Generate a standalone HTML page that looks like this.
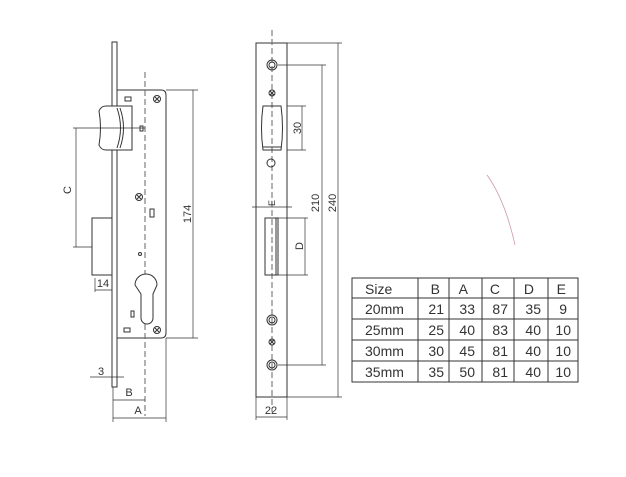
<!DOCTYPE html>
<html><head><meta charset="utf-8"><style>
html,body{margin:0;padding:0;background:#fff;}
svg{display:block;}
text{font-family:"Liberation Sans",sans-serif;fill:#333;}
</style></head><body>
<svg width="626" height="477" viewBox="0 0 626 477" xmlns="http://www.w3.org/2000/svg">
<g stroke="#333" stroke-width="1" fill="none">
<!-- LEFT VIEW -->
<rect x="112" y="42" width="5" height="345" fill="#fff"/>
<path d="M117 90 H161 Q166 90 166 95 V333 Q166 338 161 338 H117"/>
<line x1="145" y1="72" x2="145" y2="416" stroke-dasharray="6,3" stroke="#666"/>
<path d="M99 111 Q101 106 106 106 L132 106 L132 150 L106 150 Q101 150 99 145 Q102 128 99 111Z" fill="#fff"/>
<path d="M117 108 Q124 128 117 148" />
<path d="M120 108 Q127 128 120 148" />
<rect x="92" y="218" width="20" height="57"/>
<line x1="73" y1="128" x2="145" y2="128" stroke-width="0.7"/>
<line x1="73" y1="247" x2="92" y2="247" stroke-width="0.7"/>
<line x1="76" y1="128" x2="76" y2="247" stroke-width="0.7"/>
<line x1="166" y1="90" x2="198" y2="90" stroke-width="0.7"/>
<line x1="166" y1="338" x2="198" y2="338" stroke-width="0.7"/>
<line x1="193" y1="90" x2="193" y2="338" stroke-width="0.7"/>
<rect x="125" y="97" width="6" height="4"/>
<rect x="140" y="126" width="3" height="5"/>
<rect x="150" y="209" width="4" height="8"/>
<circle cx="140" cy="254" r="1.5"/>
<rect x="131" y="311" width="3" height="6"/>
<rect x="124" y="328" width="6" height="4"/>
<path d="M135 285 A11 11 0 0 1 157 285 L153 294 L153 318 A4 4 0 0 1 141 318 L141 294 Z" fill="#fff"/>
<circle cx="157" cy="99" r="3.5"/><path d="M155 97 L159 101 M159 97 L155 101"/>
<circle cx="139" cy="197" r="3.5"/><path d="M137 195 L141 199 M141 195 L137 199"/>
<circle cx="157" cy="330" r="3.5"/><path d="M155 328 L159 332 M159 328 L155 332"/>
<line x1="95" y1="278" x2="95" y2="292" stroke-width="0.7"/>
<line x1="95" y1="290" x2="112" y2="290" stroke-width="0.7"/>
<line x1="90" y1="377" x2="124" y2="377" stroke-width="0.7"/>
<line x1="113" y1="387" x2="113" y2="422" stroke-width="0.7"/>
<line x1="113" y1="400" x2="145" y2="400" stroke-width="0.7"/>
<line x1="166" y1="338" x2="166" y2="422" stroke-width="0.7"/>
<line x1="113" y1="418" x2="166" y2="418" stroke-width="0.7"/>

<!-- MIDDLE VIEW -->
<rect x="256" y="43" width="31" height="354" fill="#fff"/>
<line x1="272" y1="30" x2="272" y2="412" stroke-dasharray="6,3" stroke="#666"/>
<circle cx="272" cy="65" r="5"/><circle cx="272" cy="65" r="3"/>
<circle cx="272" cy="320" r="5"/><circle cx="272" cy="320" r="3"/>
<circle cx="272" cy="365" r="5"/><circle cx="272" cy="365" r="3"/>
<circle cx="272" cy="93" r="3"/><path d="M270 91 L274 95 M274 91 L270 95"/>
<circle cx="272" cy="342" r="3"/><path d="M270 340 L274 344 M274 340 L270 344"/>
<path d="M263 106 H281 Q284 128 281 150 H263 Q260 128 263 106Z"/>
<line x1="263" y1="147" x2="281" y2="147"/>
<circle cx="271" cy="163" r="4"/>
<rect x="265" y="218" width="13" height="57"/>
<line x1="276" y1="218" x2="276" y2="275"/>
<line x1="252" y1="207" x2="292" y2="207" stroke-width="0.7"/>
<line x1="287" y1="106" x2="306" y2="106" stroke-width="0.7"/>
<line x1="287" y1="150" x2="306" y2="150" stroke-width="0.7"/>
<line x1="302" y1="106" x2="302" y2="150" stroke-width="0.7"/>
<line x1="278" y1="218" x2="308" y2="218" stroke-width="0.7"/>
<line x1="278" y1="275" x2="308" y2="275" stroke-width="0.7"/>
<line x1="305" y1="218" x2="305" y2="275" stroke-width="0.7"/>
<line x1="278" y1="65" x2="326" y2="65" stroke-width="0.7"/>
<line x1="278" y1="365" x2="326" y2="365" stroke-width="0.7"/>
<line x1="322" y1="65" x2="322" y2="365" stroke-width="0.7"/>
<line x1="287" y1="43" x2="342" y2="43" stroke-width="0.7"/>
<line x1="287" y1="397" x2="342" y2="397" stroke-width="0.7"/>
<line x1="338" y1="43" x2="338" y2="397" stroke-width="0.7"/>
<line x1="256" y1="397" x2="256" y2="420" stroke-width="0.7"/>
<line x1="287" y1="397" x2="287" y2="420" stroke-width="0.7"/>
<line x1="256" y1="417" x2="287" y2="417" stroke-width="0.7"/>

<!-- TABLE -->
<rect x="352" y="278" width="226" height="104"/>
<path d="M418 278V382 M449 278V382 M482 278V382 M514 278V382 M548 278V382 M352 298H578 M352 319H578 M352 340H578 M352 361H578"/>
<path d="M487 175 Q505 200 515 245" stroke="#c9a" stroke-width="0.8"/>
</g>
<g font-size="11">
<text transform="translate(71,190) rotate(-90)" text-anchor="middle">C</text>
<text transform="translate(191,214) rotate(-90)" text-anchor="middle">174</text>
<text x="103" y="287" text-anchor="middle">14</text>
<text x="101" y="375" text-anchor="middle">3</text>
<text x="129" y="396" text-anchor="middle">B</text>
<text x="138" y="414" text-anchor="middle">A</text>
<text transform="translate(301,128) rotate(-90)" text-anchor="middle">30</text>
<text transform="translate(303,246) rotate(-90)" text-anchor="middle">D</text>
<text transform="translate(319,203) rotate(-90)" text-anchor="middle">210</text>
<text transform="translate(336,203) rotate(-90)" text-anchor="middle">240</text>
<text transform="translate(275,203) rotate(-90)" text-anchor="middle" font-size="9">E</text>
<text x="271" y="414" text-anchor="middle">22</text>
</g>
<g font-size="14">
<text x="365" y="294">Size</text><text x="440" y="294" text-anchor="end">B</text><text x="468" y="294" text-anchor="end">A</text><text x="500" y="294" text-anchor="end">C</text><text x="534" y="294" text-anchor="end">D</text><text x="566" y="294" text-anchor="end">E</text>
<text x="365" y="314">20mm</text><text x="444" y="314" text-anchor="end">21</text><text x="475" y="314" text-anchor="end">33</text><text x="508" y="314" text-anchor="end">87</text><text x="541" y="314" text-anchor="end">35</text><text x="567" y="314" text-anchor="end">9</text>
<text x="365" y="335">25mm</text><text x="444" y="335" text-anchor="end">25</text><text x="475" y="335" text-anchor="end">40</text><text x="508" y="335" text-anchor="end">83</text><text x="541" y="335" text-anchor="end">40</text><text x="571" y="335" text-anchor="end">10</text>
<text x="365" y="356">30mm</text><text x="444" y="356" text-anchor="end">30</text><text x="475" y="356" text-anchor="end">45</text><text x="508" y="356" text-anchor="end">81</text><text x="541" y="356" text-anchor="end">40</text><text x="571" y="356" text-anchor="end">10</text>
<text x="365" y="377">35mm</text><text x="444" y="377" text-anchor="end">35</text><text x="475" y="377" text-anchor="end">50</text><text x="508" y="377" text-anchor="end">81</text><text x="541" y="377" text-anchor="end">40</text><text x="571" y="377" text-anchor="end">10</text>
</g>
</svg>
</body></html>
